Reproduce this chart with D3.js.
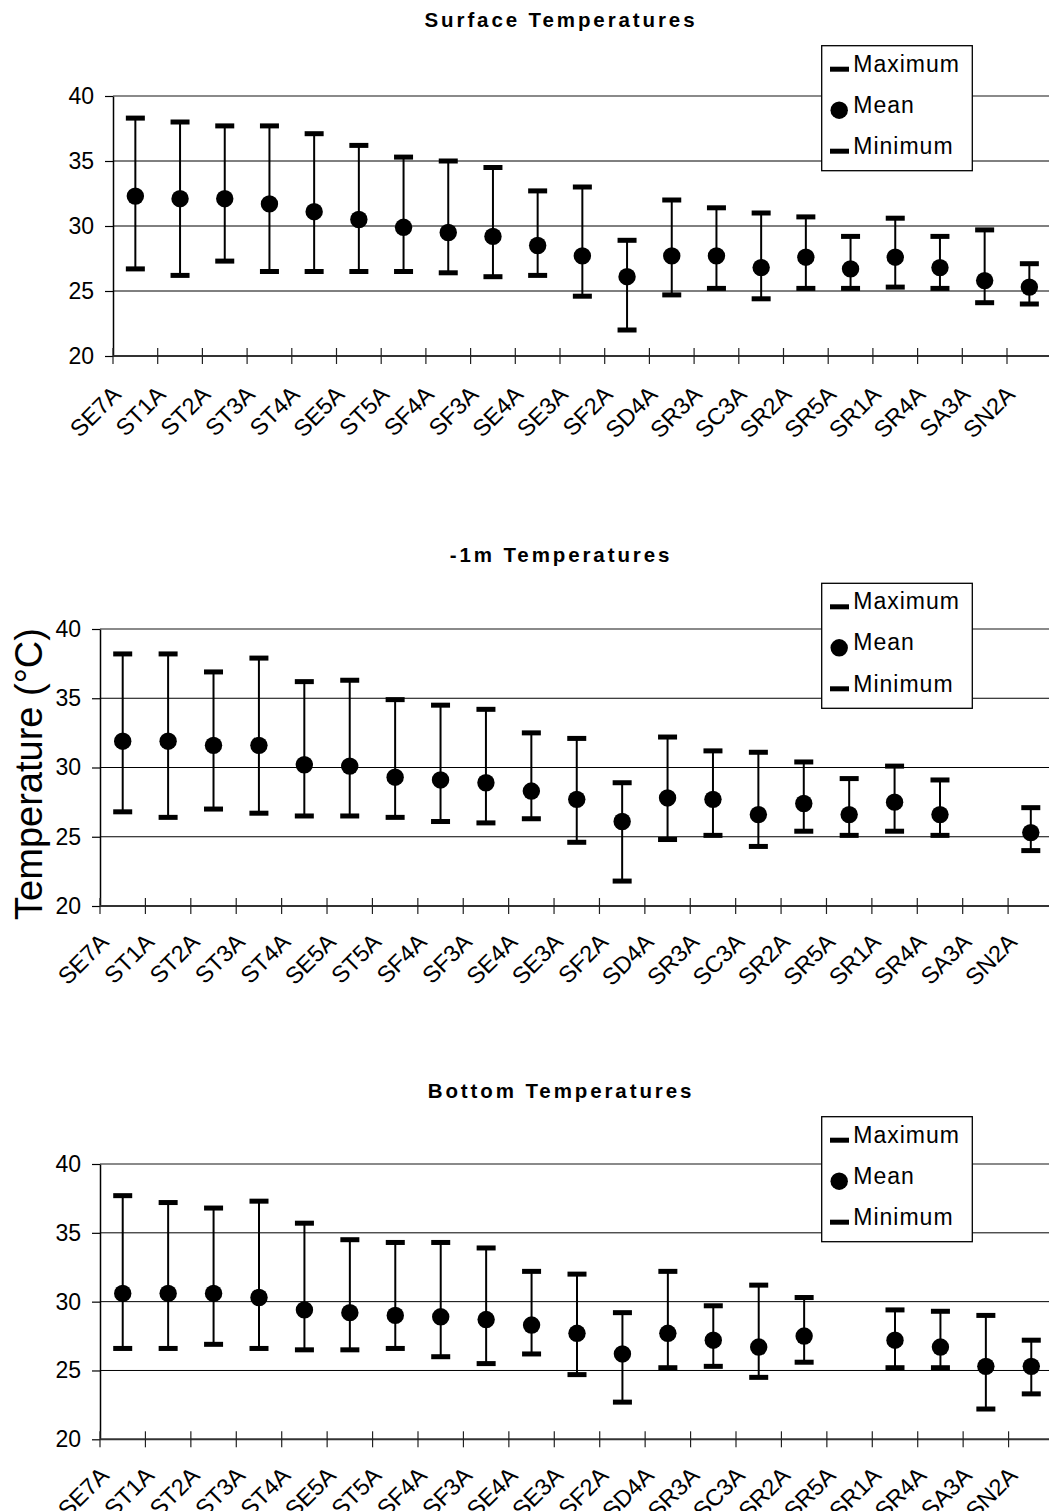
<!DOCTYPE html>
<html>
<head>
<meta charset="utf-8">
<script src="https://cdn.jsdelivr.net/npm/d3@7"></script>
<style>
  body { margin: 0; background: #fff; }
  svg { display: block; font-family: "Liberation Sans", Arial, sans-serif; }
</style>
</head>
<body>
<div class="draw-chart"></div>
<script>
const categories = ["SE7A", "ST1A", "ST2A", "ST3A", "ST4A", "SE5A", "ST5A", "SF4A", "SF3A", "SE4A",
  "SE3A", "SF2A", "SD4A", "SR3A", "SC3A", "SR2A", "SR5A", "SR1A", "SR4A", "SA3A", "SN2A"];
const yTicks = [20, 25, 30, 35, 40];

// Surface
const surfaceMax = [38.3, 38.0, 37.7, 37.7, 37.1, 36.2, 35.3, 35.0, 34.5, 32.7, 33.0, 28.9, 32.0, 31.4, 31.0, 30.7, 29.2, 30.6, 29.2, 29.7, 27.1];
const surfaceMean = [32.3, 32.1, 32.1, 31.7, 31.1, 30.5, 29.9, 29.5, 29.2, 28.5, 27.7, 26.1, 27.7, 27.7, 26.8, 27.6, 26.7, 27.6, 26.8, 25.8, 25.3];
const surfaceMin = [26.7, 26.2, 27.3, 26.5, 26.5, 26.5, 26.5, 26.4, 26.1, 26.2, 24.6, 22.0, 24.7, 25.2, 24.4, 25.2, 25.2, 25.3, 25.2, 24.1, 24.0];

// -1m
const depthMax = [38.2, 38.2, 36.9, 37.9, 36.2, 36.3, 34.9, 34.5, 34.2, 32.5, 32.1, 28.9, 32.2, 31.2, 31.1, 30.4, 29.2, 30.1, 29.1, null, 27.1];
const depthMean = [31.9, 31.9, 31.6, 31.6, 30.2, 30.1, 29.3, 29.1, 28.9, 28.3, 27.7, 26.1, 27.8, 27.7, 26.6, 27.4, 26.6, 27.5, 26.6, null, 25.3];
const depthMin = [26.8, 26.4, 27.0, 26.7, 26.5, 26.5, 26.4, 26.1, 26.0, 26.3, 24.6, 21.8, 24.8, 25.1, 24.3, 25.4, 25.1, 25.4, 25.1, null, 24.0];

// Bottom
const bottomMax = [37.7, 37.2, 36.8, 37.3, 35.7, 34.5, 34.3, 34.3, 33.9, 32.2, 32.0, 29.2, 32.2, 29.7, 31.2, 30.3, null, 29.4, 29.3, 29.0, 27.2];
const bottomMean = [30.6, 30.6, 30.6, 30.3, 29.4, 29.2, 29.0, 28.9, 28.7, 28.3, 27.7, 26.2, 27.7, 27.2, 26.7, 27.5, null, 27.2, 26.7, 25.3, 25.3];
const bottomMin = [26.6, 26.6, 26.9, 26.6, 26.5, 26.5, 26.6, 26.0, 25.5, 26.2, 24.7, 22.7, 25.2, 25.3, 24.5, 25.6, null, 25.2, 25.2, 22.2, 23.3];

const legendLabels = ["Maximum", "Mean", "Minimum"];

const charts = [
  { title: "Surface Temperatures", max: surfaceMax, mean: surfaceMean, min: surfaceMin,
    left: 113, right: 1051.7, top: 96, bottom: 356, titleY: 27, legendTop: 45.7, yLabel: false,
    labelShift: "translate(-13,40)" },
  { title: "-1m Temperatures", max: depthMax, mean: depthMean, min: depthMin,
    left: 100, right: 1053.5, top: 629, bottom: 906, titleY: 562, legendTop: 583.3, yLabel: true,
    labelShift: "translate(-12.5,37.5)" },
  { title: "Bottom Temperatures", max: bottomMax, mean: bottomMean, min: bottomMin,
    left: 100, right: 1054, top: 1164, bottom: 1439.3, titleY: 1098, legendTop: 1116.7, yLabel: false,
    labelShift: "translate(-12.5,37.5)" }
];

const svg = d3.select(".draw-chart")
  .append("svg")
  .attr("width", 1049)
  .attr("height", 1511);

svg.append("rect").attr("width", 1049).attr("height", 1511).attr("fill", "#fff");

const drawChart = (c) => {
  const g = svg.append("g");

  let x = d3.scaleBand().domain(categories).range([c.left, c.right]).padding(0);
  let y = d3.scaleLinear().domain([20, 40]).range([c.bottom, c.top]);

  // title
  g.append("text")
    .attr("x", 561)
    .attr("y", c.titleY)
    .attr("text-anchor", "middle")
    .attr("font-weight", "bold")
    .attr("font-size", 20.5)
    .attr("letter-spacing", 2.9)
    .text(c.title);

  // gridlines
  g.selectAll(".grid")
    .data(yTicks.filter((d) => d > 20))
    .enter()
    .append("line")
    .attr("x1", c.left)
    .attr("x2", c.right)
    .attr("y1", (d) => y(d))
    .attr("y2", (d) => y(d))
    .attr("stroke", (d) => (d === 40 ? "#8a8a8a" : "#000"))
    .attr("stroke-width", (d) => (d === 40 ? 2 : 1));

  // y axis
  let yAxis = g.append("g")
    .attr("transform", "translate(" + c.left + ",0)")
    .call(d3.axisLeft(y).tickValues(yTicks).tickSize(8).tickPadding(11).tickSizeOuter(0));
  yAxis.select(".domain").attr("stroke", "#000").attr("stroke-width", 1.5);
  yAxis.selectAll(".tick line").attr("stroke", "#000").attr("stroke-width", 1.2);
  yAxis.selectAll(".tick text")
    .attr("font-size", 23)
    .attr("font-family", "Liberation Sans, Arial, sans-serif")
    .attr("fill", "#000");

  // x axis with labels at band centres
  let xAxis = g.append("g")
    .attr("transform", "translate(0," + c.bottom + ")")
    .call(d3.axisBottom(x).tickSize(0).tickSizeOuter(0));
  xAxis.select(".domain").remove();
  xAxis.selectAll(".tick text")
    .attr("font-size", 23.5)
    .attr("font-family", "Liberation Sans, Arial, sans-serif")
    .attr("fill", "#000")
    .attr("text-anchor", "end")
    .attr("x", 0)
    .attr("y", 0)
    .attr("dy", 0)
    .attr("transform", c.labelShift + " rotate(-45)");

  g.append("line")
    .attr("x1", c.left)
    .attr("x2", c.right)
    .attr("y1", y(20))
    .attr("y2", y(20))
    .attr("stroke", "#333")
    .attr("stroke-width", 2);

  // tick marks at category boundaries
  g.selectAll(".xtick")
    .data(categories)
    .enter()
    .append("line")
    .attr("x1", (d) => x(d))
    .attr("x2", (d) => x(d))
    .attr("y1", y(20) - 8)
    .attr("y2", y(20) + 8)
    .attr("stroke", "#222")
    .attr("stroke-width", 1.2);

  // error bars
  const rows = categories
    .map((cat, i) => ({ cat: cat, max: c.max[i], mean: c.mean[i], min: c.min[i] }))
    .filter((d) => d.mean !== null);
  const cx = (d) => x(d.cat) + x.bandwidth() / 2;

  let bars = g.selectAll(".bar").data(rows).enter().append("g");
  bars.append("line")
    .attr("x1", cx)
    .attr("x2", cx)
    .attr("y1", (d) => y(d.max))
    .attr("y2", (d) => y(d.min))
    .attr("stroke", "#000")
    .attr("stroke-width", 2);
  bars.append("rect")
    .attr("x", (d) => cx(d) - 9.5)
    .attr("y", (d) => y(d.max) - 2.5)
    .attr("width", 19)
    .attr("height", 5)
    .attr("fill", "#000");
  bars.append("rect")
    .attr("x", (d) => cx(d) - 9.5)
    .attr("y", (d) => y(d.min) - 2.5)
    .attr("width", 19)
    .attr("height", 5)
    .attr("fill", "#000");
  bars.append("circle")
    .attr("cx", cx)
    .attr("cy", (d) => y(d.mean))
    .attr("r", 8.7)
    .attr("fill", "#000");

  // legend
  let lg = g.append("g").attr("transform", "translate(821.7," + c.legendTop + ")");
  lg.append("rect")
    .attr("width", 150.6)
    .attr("height", 125)
    .attr("fill", "#fff")
    .attr("stroke", "#000")
    .attr("stroke-width", 1.3);
  lg.append("rect").attr("x", 8.3).attr("y", 21).attr("width", 19).attr("height", 5).attr("fill", "#000");
  lg.append("circle").attr("cx", 17.5).attr("cy", 64.5).attr("r", 8.7).attr("fill", "#000");
  lg.append("rect").attr("x", 8.3).attr("y", 103).attr("width", 19).attr("height", 5).attr("fill", "#000");
  lg.selectAll(".ltext")
    .data(legendLabels)
    .enter()
    .append("text")
    .attr("x", 31.6)
    .attr("y", (d, i) => 26 + i * 41.2)
    .attr("font-size", 23)
    .attr("letter-spacing", 1)
    .text((d) => d);

  if (c.yLabel) {
    g.append("text")
      .attr("transform", "translate(42," + ((c.top + c.bottom) / 2 + 6.5) + ") rotate(-90)")
      .attr("text-anchor", "middle")
      .attr("font-size", 38)
      .text("Temperature (\u00B0C)");
  }
};

charts.forEach(drawChart);
</script>
</body>
</html>
